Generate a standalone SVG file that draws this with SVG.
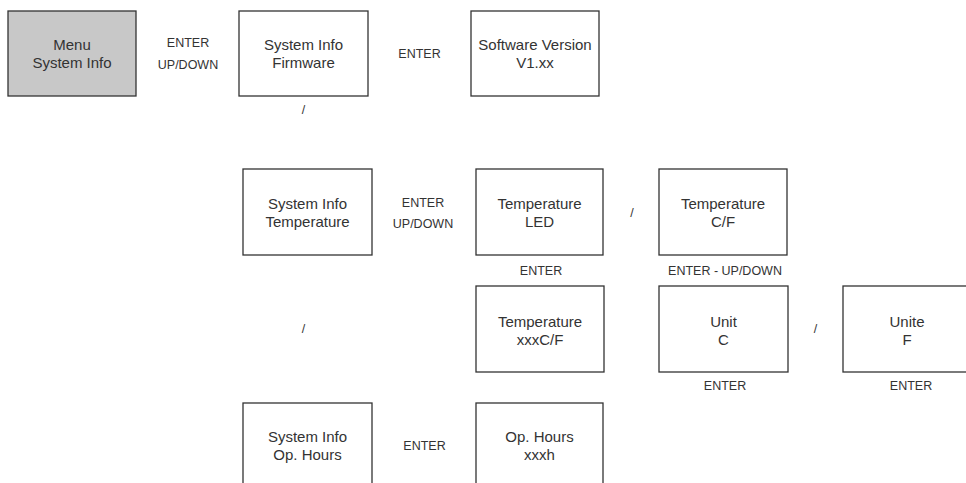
<svg xmlns="http://www.w3.org/2000/svg" width="966" height="483" viewBox="0 0 966 483">
<style>
.box{fill:#ffffff;stroke:#333333;stroke-width:1.3}
.gray{fill:#c8c8c8}
.t{font-family:"Liberation Sans",Arial,sans-serif;font-size:15px;fill:#333333;text-anchor:middle}
.l{font-family:"Liberation Sans",Arial,sans-serif;font-size:12.5px;fill:#333333;text-anchor:middle}
</style>
<rect width="966" height="483" fill="#ffffff"/>
<g id="menu"><rect class="box gray" x="8" y="11" width="128" height="85"/><text class="t" x="72" y="50">Menu</text><text class="t" x="72" y="67.5">System Info</text></g>
<g id="sysfw"><rect class="box" x="239" y="11" width="129" height="85"/><text class="t" x="303.5" y="50">System Info</text><text class="t" x="303.5" y="67.5">Firmware</text></g>
<g id="swver"><rect class="box" x="471" y="11" width="128" height="85"/><text class="t" x="535" y="50">Software Version</text><text class="t" x="535" y="67.5">V1.xx</text></g>
<g id="systemp"><rect class="box" x="243" y="169" width="129" height="86"/><text class="t" x="307.5" y="209">System Info</text><text class="t" x="307.5" y="226.5">Temperature</text></g>
<g id="templed"><rect class="box" x="476" y="169" width="127" height="86"/><text class="t" x="539.5" y="209">Temperature</text><text class="t" x="539.5" y="226.5">LED</text></g>
<g id="tempcf"><rect class="box" x="659" y="169" width="128" height="86"/><text class="t" x="723" y="209">Temperature</text><text class="t" x="723" y="226.5">C/F</text></g>
<g id="tempval"><rect class="box" x="476" y="286" width="128" height="86"/><text class="t" x="540" y="326.5">Temperature</text><text class="t" x="540" y="344.5">xxxC/F</text></g>
<g id="unitc"><rect class="box" x="659" y="286" width="129" height="86"/><text class="t" x="723.5" y="326.5">Unit</text><text class="t" x="723.5" y="344.5">C</text></g>
<g id="unitf"><rect class="box" x="843" y="286" width="128" height="86"/><text class="t" x="907" y="326.5">Unite</text><text class="t" x="907" y="344.5">F</text></g>
<g id="sysop"><rect class="box" x="243" y="403" width="129" height="86"/><text class="t" x="307.5" y="441.5">System Info</text><text class="t" x="307.5" y="459.5">Op. Hours</text></g>
<g id="opval"><rect class="box" x="476" y="403" width="127" height="86"/><text class="t" x="539.5" y="441.5">Op. Hours</text><text class="t" x="539.5" y="459.5">xxxh</text></g>
<g id="connectors">
<text class="l" x="188" y="46.5">ENTER</text><text class="l" x="188" y="69">UP/DOWN</text>
<text class="l" x="419.5" y="58">ENTER</text>
<text class="l" x="303.5" y="114">/</text>
<text class="l" x="423" y="206.5">ENTER</text><text class="l" x="423" y="228">UP/DOWN</text>
<text class="l" x="632" y="217">/</text>
<text class="l" x="541" y="275">ENTER</text>
<text class="l" x="725" y="275">ENTER - UP/DOWN</text>
<text class="l" x="303.5" y="333">/</text>
<text class="l" x="815.5" y="333">/</text>
<text class="l" x="725" y="390">ENTER</text>
<text class="l" x="911" y="390">ENTER</text>
<text class="l" x="424.5" y="450">ENTER</text>
</g>
</svg>
